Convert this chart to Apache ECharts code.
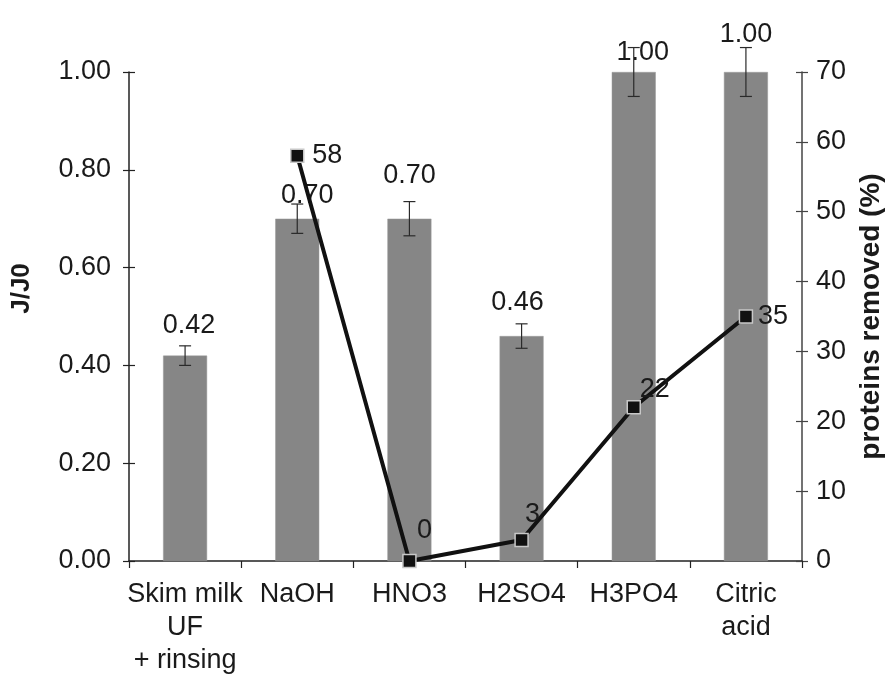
<!DOCTYPE html>
<html>
<head>
<meta charset="utf-8">
<script src="https://cdn.jsdelivr.net/npm/echarts@6/dist/echarts.min.js"></script>
<style>
html,body{margin:0;padding:0;background:#fff;}
#chart{width:894px;height:677px;}
</style>
</head>
<body>
<div id="chart"></div>
<script>
// ---- data ----
const categories = ['Skim milk\nUF\n+ rinsing', 'NaOH', 'HNO3', 'H2SO4', 'H3PO4', 'Citric\nacid'];
const fluxRatio = [0.42, 0.70, 0.70, 0.46, 1.00, 1.00];
const fluxError = [0.02, 0.03, 0.035, 0.025, 0.05, 0.05];
const proteinsRemoved = [null, 58, 0, 3, 22, 35];
const leftAxisRange = [0, 1, 0.2];
const rightAxisRange = [0, 70, 10];

// ---- styling (label placement) ----
const barLabelOffsets = [[4, -12], [10, -5], [0, -25], [-4, -15], [9, -1], [0, -19]];
const lineLabelOffsets = [[0, 0], [30, 0], [15, -30], [11, -25], [21, -18], [27, 0]];

const FONT = '"Liberation Sans", Arial, Helvetica, sans-serif';
const TXT = '#1a1a1a';
const FS = 27;

const chart = echarts.init(document.getElementById('chart'), null, {renderer: 'canvas'});

const yBase = (range, pos) => ({
  type: 'value', position: pos, min: range[0], max: range[1], interval: range[2],
  splitLine: {show: false}
});

const option = {
  backgroundColor: '#ffffff',
  animation: false,
  grid: {left: 129, right: 92, top: 72, bottom: 113, containLabel: false},
  xAxis: {
    type: 'category',
    data: categories,
    axisLine: {show: true, lineStyle: {color: '#222', width: 1.5}},
    axisTick: {show: true, length: 7, lineStyle: {color: '#222', width: 1.2}},
    axisLabel: {interval: 0, margin: 17, color: TXT, fontFamily: FONT, fontSize: FS, lineHeight: 33}
  },
  yAxis: [
    Object.assign(yBase(leftAxisRange, 'left'), {
      name: 'J/J0', nameLocation: 'middle', nameRotate: 90, nameGap: 94,
      nameTextStyle: {fontFamily: FONT, fontSize: 26, fontWeight: 'bold', color: TXT, padding: [0, 0, 0, 56]},
      axisLine: {show: true, lineStyle: {color: '#222', width: 1.5}},
      axisTick: {show: true, length: 6, lineStyle: {color: '#222', width: 1.2}},
      axisLabel: {margin: 18, color: TXT, fontFamily: FONT, fontSize: FS, formatter: v => v.toFixed(2)}
    }),
    Object.assign(yBase(rightAxisRange, 'right'), {
      name: 'proteins removed (%)', nameLocation: 'middle', nameRotate: 90, nameGap: 54,
      nameTextStyle: {fontFamily: FONT, fontSize: 28, fontWeight: 'bold', color: TXT},
      axisLine: {show: true, lineStyle: {color: '#444', width: 1.5}},
      axisTick: {show: true, length: 6, lineStyle: {color: '#444', width: 1.2}},
      axisLabel: {margin: 14, color: TXT, fontFamily: FONT, fontSize: FS}
    }),
    Object.assign(yBase(leftAxisRange, 'left'), {
      axisLine: {show: false},
      axisTick: {show: true, inside: true, length: 6, lineStyle: {color: '#222', width: 1.2}},
      axisLabel: {show: false}
    }),
    Object.assign(yBase(rightAxisRange, 'right'), {
      axisLine: {show: false},
      axisTick: {show: true, inside: true, length: 6, lineStyle: {color: '#444', width: 1.2}},
      axisLabel: {show: false}
    })
  ],
  series: [
    {
      name: 'J/J0', type: 'bar', yAxisIndex: 0, z: 2,
      barWidth: 44,
      data: fluxRatio.map((v, i) => ({
        value: v,
        label: {offset: barLabelOffsets[i]}
      })),
      itemStyle: {color: '#868686', borderColor: '#9a9a9a', borderWidth: 0.5},
      label: {
        show: true, position: 'top', distance: 5,
        color: TXT, fontFamily: FONT, fontSize: FS,
        formatter: p => Number(p.value).toFixed(2)
      }
    },
    {
      name: 'error', type: 'custom', yAxisIndex: 0, z: 3, silent: true,
      data: fluxRatio.map((v, i) => [i, v, fluxError[i]]),
      renderItem: (params, api) => {
        const x = api.value(0), y = api.value(1), e = api.value(2);
        const hi = api.coord([x, y + e]);
        const lo = api.coord([x, y - e]);
        const cap = 6;
        const st = {stroke: '#2a2a2a', lineWidth: 1.2};
        return {
          type: 'group',
          children: [
            {type: 'line', shape: {x1: hi[0], y1: hi[1], x2: lo[0], y2: lo[1]}, style: st},
            {type: 'line', shape: {x1: hi[0] - cap, y1: hi[1], x2: hi[0] + cap, y2: hi[1]}, style: st},
            {type: 'line', shape: {x1: lo[0] - cap, y1: lo[1], x2: lo[0] + cap, y2: lo[1]}, style: st}
          ]
        };
      }
    },
    {
      name: 'proteins removed', type: 'line', yAxisIndex: 1, z: 4,
      data: proteinsRemoved.map((v, i) => ({
        value: v,
        label: {offset: lineLabelOffsets[i]}
      })),
      connectNulls: false,
      symbol: 'rect', symbolSize: 13,
      lineStyle: {color: '#111', width: 4},
      itemStyle: {color: '#111', borderColor: '#c8c8c8', borderWidth: 1.5},
      label: {
        show: true, position: 'inside',
        color: TXT, fontFamily: FONT, fontSize: FS
      }
    }
  ]
};
chart.setOption(option);
</script>
</body>
</html>
